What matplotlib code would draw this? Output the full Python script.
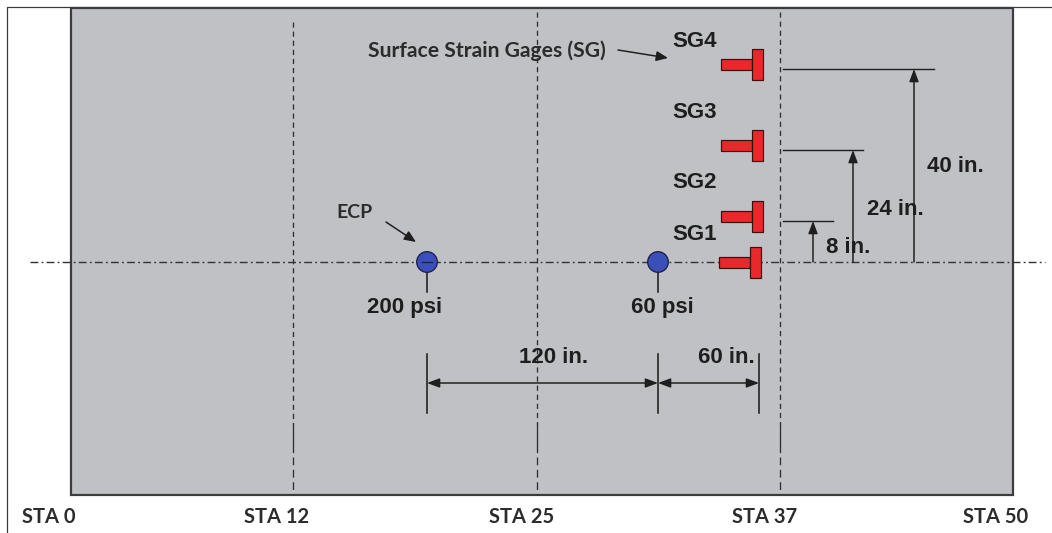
import matplotlib
matplotlib.use("Agg")
import matplotlib.pyplot as plt
from matplotlib.patches import Rectangle, Circle

# ---------------- data ----------------
station_labels = ["STA 0", "STA 12", "STA 25", "STA 37", "STA 50"]
ecp_pressures = [200, 60]                 # psi
gage_names = ["SG1", "SG2", "SG3", "SG4"]
gage_offsets_in = [0, 8, 24, 40]          # inches from centerline
ecp_spacing_in = [120, 60]                # inches
callout_gages = "Surface Strain Gages (SG)"
callout_ecp = "ECP"

# ---------------- layout (drawing units = pixels) ----------------
W, H = 1052, 533
slab = dict(x0=71, x1=1013, y0=8, y1=495)
station_label_x = [48.5, 277, 522, 765, 996]
station_line_x = [293, 537, 780]
station_line_top = [22, 12, 12]
center_y = 262
ecp_x = [427, 658]
ecp_label_x = [405, 662]
gage_y = [262, 216, 145, 64]
gage_shift = [-2, 0, 0, 0]
gage_label_base = [240, 188, 118, 47]
dim_line_y = [None, 221, 150, 69]
dim_end_x = [None, 833, 863, 934]
dim_arrow_x = [None, 813, 853, 914]
dim_label_xy = [None, (848, 253), (895, 215), (955, 172)]
bottom_x = [427, 658, 759]
bottom_y = 383
bottom_label_x = [554, 726]

BOLD = dict(family="Liberation Sans", weight="bold", color="#1e1e1e", fontsize=16)
CAL = dict(family="Lato", color="#2c2c2c", weight="bold")

fig = plt.figure(figsize=(W / 100, H / 100), dpi=100)
ax = fig.add_axes([0, 0, 1, 1])
ax.set_xlim(0, W)
ax.set_ylim(H, 0)
ax.axis("off")

PT = 0.72  # points per pixel
INK = "#1e1e1e"

# outer frame
ax.plot([7, 7, W], [H, 7, 7], color="#3a3a3a", lw=1.2 * PT, zorder=1, solid_capstyle="butt")

# slab
ax.add_patch(Rectangle((slab["x0"], slab["y0"]), slab["x1"] - slab["x0"], slab["y1"] - slab["y0"],
                       facecolor="#c0c1c5", edgecolor="#3c3c3c", lw=2.2 * PT, zorder=2))

# station lines
for x, top in zip(station_line_x, station_line_top):
    ax.plot([x, x], [top, 424], color="#2e2e2e", lw=1.3 * PT, linestyle=(0, (4.0, 3.0)), zorder=3)
    ax.plot([x, x], [424, 452], color="#2e2e2e", lw=1.3 * PT, zorder=3)
    ax.plot([x, x], [457, slab["y1"]], color="#2e2e2e", lw=1.3 * PT, linestyle=(0, (6.0, 3.5)), zorder=3)

# station labels
for lab, x in zip(station_labels, station_label_x):
    ax.text(x, 523, lab, ha="center", va="baseline", fontsize=14.5, **CAL)

# centerline (dash-dot)
ax.plot([30, 1045], [center_y, center_y], color="#333333", lw=1.4 * PT,
        linestyle=(0, (5.6, 2.3, 1.3, 2.3)), zorder=4)

# ECPs
for x, lx, p in zip(ecp_x, ecp_label_x, ecp_pressures):
    ax.plot([x, x], [272, 292], color=INK, lw=1.6 * PT, zorder=5)
    ax.add_patch(Circle((x, center_y), 10.3, facecolor="#3b4fb8", edgecolor="#1b1f48",
                        lw=1.3 * PT, zorder=6))
    ax.text(lx, 313, f"{p} psi", ha="center", va="baseline", **BOLD)
ax.plot([ecp_x[0] - 5, ecp_x[0] + 5], [center_y, center_y], color="#1b1f48", lw=1.3 * PT, zorder=7)

ax.text(354, 218, callout_ecp, ha="center", va="baseline", fontsize=14, **CAL)
ax.annotate("", xy=(416, 242), xytext=(386, 222),
            arrowprops=dict(arrowstyle="-|>,head_length=0.7,head_width=0.3", color=INK,
                            lw=1.5 * PT, shrinkA=0, shrinkB=0), zorder=8)

# strain gages
for name, gy, dx, base in zip(gage_names, gage_y, gage_shift, gage_label_base):
    ax.add_patch(Rectangle((721 + dx, gy - 5.5), 31, 11, facecolor="#e8282a",
                           edgecolor="#3a1010", lw=1.2 * PT, zorder=6))
    ax.add_patch(Rectangle((752 + dx, gy - 15.5), 11, 31, facecolor="#e8282a",
                           edgecolor="#3a1010", lw=1.2 * PT, zorder=6))
    ax.text(672, base, name, ha="left", va="baseline", **BOLD)

ax.text(368, 57, callout_gages, ha="left", va="baseline", fontsize=15.2, **CAL)
ax.annotate("", xy=(668, 58), xytext=(618, 50),
            arrowprops=dict(arrowstyle="-|>,head_length=0.7,head_width=0.3", color=INK,
                            lw=1.5 * PT, shrinkA=0, shrinkB=0), zorder=8)

# vertical dimensions on the right
for off, yv, xe, xa, lxy in zip(gage_offsets_in, dim_line_y, dim_end_x, dim_arrow_x, dim_label_xy):
    if off == 0:
        continue
    ax.plot([783, xe], [yv, yv], color=INK, lw=1.4 * PT, zorder=5)
    ax.annotate("", xy=(xa, yv), xytext=(xa, center_y),
                arrowprops=dict(arrowstyle="-|>,head_length=0.75,head_width=0.28", color=INK,
                                lw=1.5 * PT, shrinkA=0, shrinkB=0), zorder=8)
    ax.text(lxy[0], lxy[1], f"{off} in.", ha="center", va="baseline", **BOLD)

# bottom dimensions
for x in bottom_x:
    ax.plot([x, x], [354, 413], color=INK, lw=1.6 * PT, zorder=5)
for (xa, xb), s, lx in zip(zip(bottom_x[:-1], bottom_x[1:]), ecp_spacing_in, bottom_label_x):
    ax.annotate("", xy=(xb, bottom_y), xytext=(xa, bottom_y),
                arrowprops=dict(arrowstyle="<|-|>,head_length=0.75,head_width=0.28", color=INK,
                                lw=1.5 * PT, shrinkA=0, shrinkB=0), zorder=8)
    ax.text(lx, 363, f"{s} in.", ha="center", va="baseline", **BOLD)

fig.savefig("out.png", dpi=100, facecolor="white")
